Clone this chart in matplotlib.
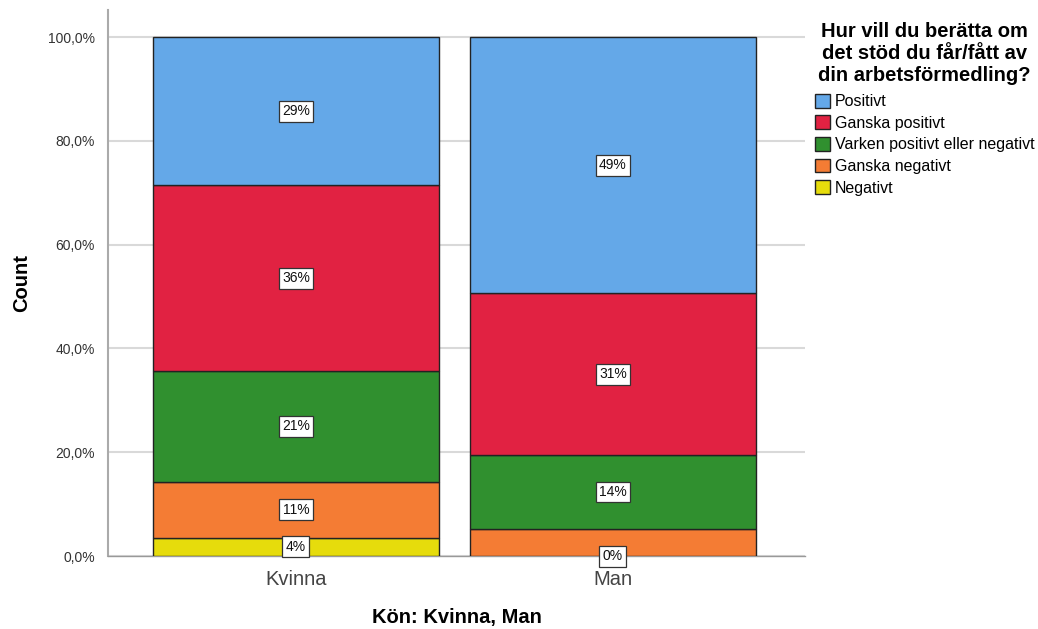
import matplotlib
matplotlib.use("Agg")
import matplotlib.pyplot as plt
from matplotlib.patches import Patch

plt.rcParams['font.family'] = ['Liberation Sans', 'DejaVu Sans']

groups = ["Kvinna", "Man"]
categories = ["Negativt", "Ganska negativt", "Varken positivt eller negativt",
              "Ganska positivt", "Positivt"]
colors = ["#E6DC0C", "#F47C34", "#30902F", "#E12242", "#64A8E8"]

# percentage per response, bottom to top of each stacked bar
kvinna_pct = [3.57, 10.71, 21.43, 35.71, 28.57]
man_pct = [0.0, 5.19, 14.29, 31.17, 49.35]
kvinna_labels = ["4%", "11%", "21%", "36%", "29%"]
man_labels = ["0%", None, "14%", "31%", "49%"]

yticks = [0, 20, 40, 60, 80, 100]
ytick_labels = ["0,0%", "20,0%", "40,0%", "60,0%", "80,0%", "100,0%"]

fig = plt.figure(figsize=(10.38, 6.29), dpi=100)
ax = fig.add_axes([0.104, 0.116, 0.6715, 0.868])

series = [kvinna_pct, man_pct]
labels = [kvinna_labels, man_labels]
for gi, (vals, labs) in enumerate(zip(series, labels)):
    bottom = 0.0
    for ci, v in enumerate(vals):
        if v > 0:
            ax.bar(gi, v, bottom=bottom, width=0.9, color=colors[ci],
                   edgecolor="#222222", linewidth=1.0, zorder=3)
        if labs[ci] is not None:
            ax.text(gi, bottom + v / 2, labs[ci], ha="center", va="center",
                    fontsize=10, color="#111111", zorder=5,
                    bbox=dict(boxstyle="square,pad=0.25", facecolor="white",
                              edgecolor="#333333", linewidth=0.9))
        bottom += v

ax.set_xlim(-0.593, 1.606)
ax.set_ylim(0, 105.2)
ax.set_yticks(yticks)
ax.set_yticklabels(ytick_labels, fontsize=10, color="#333333")
ax.set_xticks([0, 1])
ax.set_xticklabels(groups, fontsize=14.5, color="#444444")
ax.tick_params(axis="y", length=0, pad=9.5)
ax.tick_params(axis="x", length=0, pad=10)
ax.yaxis.grid(True, color="#D9D9D9", linewidth=1.5, zorder=0)
ax.set_axisbelow(True)
for s in ["top", "right"]:
    ax.spines[s].set_visible(False)
ax.spines["left"].set_color("#AAAAAA")
ax.spines["left"].set_linewidth(1.5)
ax.spines["bottom"].set_color("#999999")
ax.spines["bottom"].set_linewidth(1.0)

ax.set_ylabel("Count", fontsize=14.5, fontweight="bold", labelpad=12)
ax.set_xlabel("Kön: Kvinna, Man", fontsize=14.5, fontweight="bold", labelpad=14)

handles = [Patch(facecolor=colors[i], edgecolor="#222222", linewidth=1.0,
                 label=categories[i]) for i in range(len(categories) - 1, -1, -1)]
leg = fig.legend(handles=handles, loc="upper left",
                 bbox_to_anchor=(0.774, 0.983), frameon=False,
                 title="Hur vill du berätta om\ndet stöd du får/fått av\ndin arbetsförmedling?",
                 title_fontproperties={"size": 14.5, "weight": "bold"},
                 fontsize=11.5, handlelength=0.95, handleheight=0.95,
                 handletextpad=0.3, labelspacing=0.39, borderpad=0.2)
leg._legend_box.align = "center"
leg._legend_box.sep += 2
leg.get_title().set_multialignment("center")

fig.savefig("out.png", dpi=100)
